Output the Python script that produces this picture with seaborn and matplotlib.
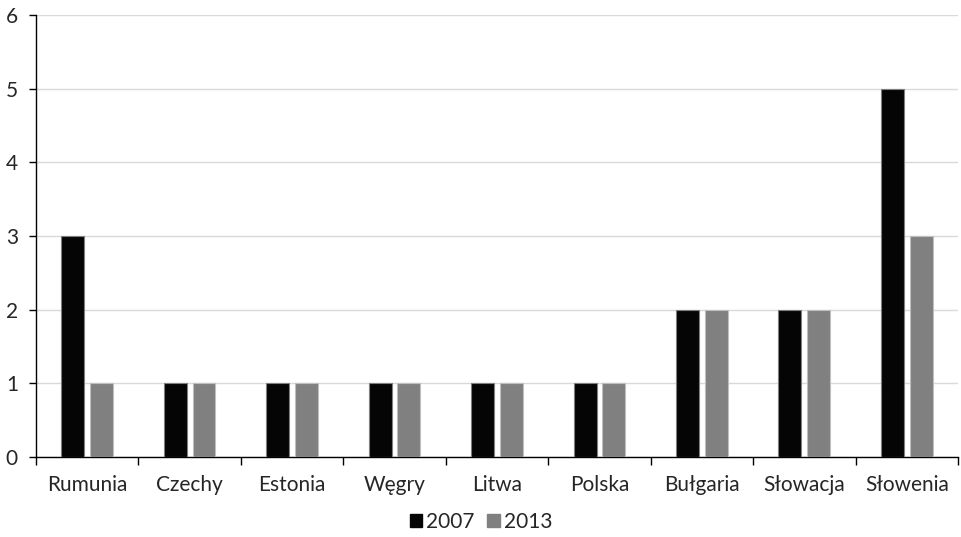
import matplotlib
matplotlib.use("Agg")
import matplotlib.pyplot as plt
import seaborn as sns
import pandas as pd
from matplotlib.patches import Patch

countries = ["Rumunia", "Czechy", "Estonia", "Węgry", "Litwa", "Polska",
             "Bułgaria", "Słowacja", "Słowenia"]
values_2007 = [3, 1, 1, 1, 1, 1, 2, 2, 5]
values_2013 = [1, 1, 1, 1, 1, 1, 2, 2, 3]
years = ["2007", "2013"]
y_ticks = [0, 1, 2, 3, 4, 5, 6]

df = pd.DataFrame({
    "kraj": countries * 2,
    "rok": [years[0]] * len(countries) + [years[1]] * len(countries),
    "wartosc": values_2007 + values_2013,
})

sns.set_theme(style="white")
plt.rcParams["font.family"] = ["Lato", "DejaVu Sans"]

colors = {"2007": "#050505", "2013": "#808080"}
edges = {"2007": "#7f7f7f", "2013": "#bfbfbf"}
fs = 15

fig = plt.figure(figsize=(9.62, 5.37), dpi=100)
ax = fig.add_axes([0.0374, 0.149, 0.9584, 0.823])

sns.barplot(data=df, x="kraj", y="wartosc", hue="rok", order=countries,
            hue_order=years, palette=colors, width=0.56, gap=0.2,
            legend=False, ax=ax, zorder=3)

# outline each bar with a lighter edge
n = len(countries)
for i, patch in enumerate(ax.patches[:2 * n]):
    yr = years[i // n]
    patch.set_edgecolor(edges[yr])
    patch.set_linewidth(0.8)

ax.set_xlim(-0.5, n - 0.5)
ax.set_ylim(0, 6)
ax.set_yticks(y_ticks)
ax.set_yticklabels([str(t) for t in y_ticks], fontsize=fs)
ax.yaxis.grid(True, color="#d9d9d9", linewidth=1.0, zorder=0)
ax.set_axisbelow(True)

# category labels centred, tick marks at category boundaries
ax.set_xticks(range(n))
ax.set_xticklabels(countries, fontsize=fs)
ax.tick_params(axis="x", which="major", length=0, pad=13)
ax.set_xticks([i - 0.5 for i in range(n + 1)], minor=True)
ax.tick_params(axis="x", which="minor", length=6, width=1, color="black",
               direction="out", bottom=True)
ax.tick_params(axis="y", length=5, width=1, color="black", direction="out",
               left=True, pad=8)

ax.set_xlabel("")
ax.set_ylabel("")
for side in ["top", "right"]:
    ax.spines[side].set_visible(False)
for side in ["left", "bottom"]:
    ax.spines[side].set_color("black")
    ax.spines[side].set_linewidth(1.0)

handles = [Patch(facecolor=colors[y], edgecolor=colors[y], label=y) for y in years]
fig.legend(handles=handles, loc="center", bbox_to_anchor=(0.5, 0.028),
           ncol=2, frameon=False, fontsize=fs, handlelength=0.6,
           handleheight=0.6, handletextpad=0.2, columnspacing=0.6)

fig.savefig("out.png", dpi=100)
